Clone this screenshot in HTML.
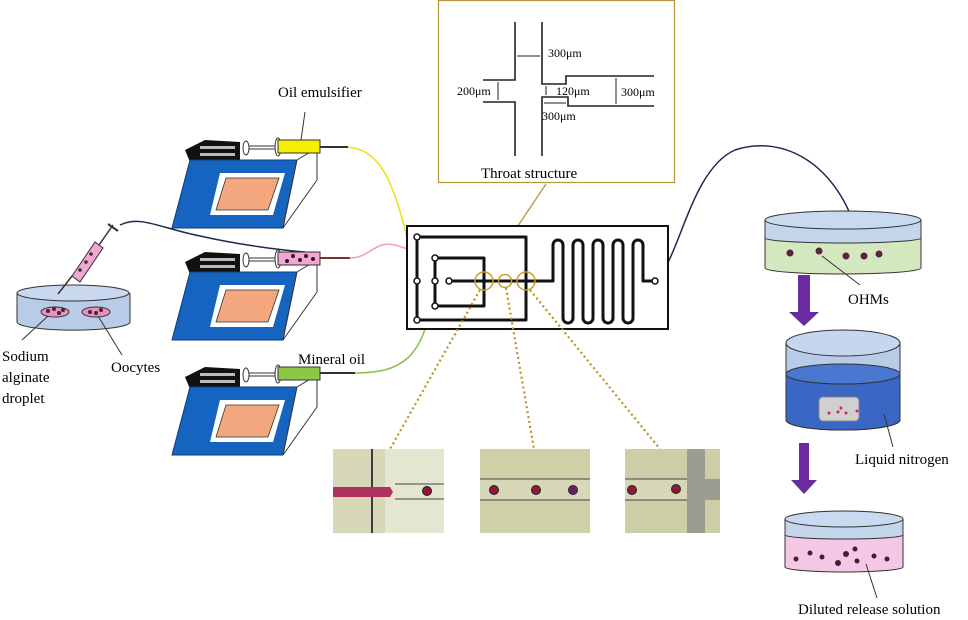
<!DOCTYPE html>
<html><head><meta charset="utf-8"><style>
html,body{margin:0;padding:0;background:#fff;}
svg{display:block;font-family:"Liberation Serif",serif;}
</style></head><body>
<svg width="968" height="620" viewBox="0 0 968 620" xmlns="http://www.w3.org/2000/svg">
<defs>
<g id="pump">
  <path d="M185,150 L205,140 L240,142 L240,160 L190,162 Z" fill="#111"/>
  <rect x="200" y="146" width="35" height="3" fill="#bbb"/>
  <rect x="200" y="153" width="35" height="3" fill="#bbb"/>
  <path d="M172,228 L190,160 L297,160 L283,228 Z" fill="#1565c0" stroke="#0d3b7a" stroke-width="1"/>
  <path d="M297,160 L317,148 L317,180 L283,228 Z" fill="#fff" stroke="#333" stroke-width="1"/>
  <path d="M220,173 L285,173 L273,215 L210,215 Z" fill="#fff"/>
  <path d="M226,178 L279,178 L268,210 L216,210 Z" fill="#f2a77e" stroke="#333" stroke-width="0.8"/>
  <rect x="245" y="146" width="33" height="3" fill="#fff" stroke="#333" stroke-width="1"/>
  <ellipse cx="246" cy="148" rx="3" ry="7" fill="#fff" stroke="#333"/>
  <ellipse cx="278" cy="147" rx="3" ry="9" fill="#fff" stroke="#333"/>
</g>
</defs>

<!-- tubes -->
<path d="M348,147 C380,150 395,180 412,260" stroke="#f0e020" stroke-width="1.6" fill="none"/>
<path d="M350,258 C370,258 375,240 395,245 C420,252 440,265 450,278" stroke="#f2a0c0" stroke-width="1.6" fill="none"/>
<path d="M355,373 C400,373 425,360 433,290" stroke="#8cc050" stroke-width="1.6" fill="none"/>
<path d="M120,225 C140,215 160,228 200,236 C240,245 280,250 305,252" stroke="#1c2a50" stroke-width="1.5" fill="none"/>
<path d="M655,281 C680,260 690,170 735,150 C780,135 830,160 853,221" stroke="#1c2a50" stroke-width="1.5" fill="none"/>
<line x1="305" y1="112" x2="301" y2="140" stroke="#333" stroke-width="1"/>

<!-- pumps -->
<use href="#pump"/>
<rect x="278" y="140" width="42" height="13" fill="#f6f000" stroke="#333"/>
<line x1="320" y1="147" x2="348" y2="147" stroke="#333" stroke-width="2"/>

<use href="#pump" transform="translate(0,112)"/>
<rect x="278" y="252" width="42" height="13" fill="#f3a6d0" stroke="#333"/>
<g fill="#3a1030"><circle cx="287" cy="261" r="2"/><circle cx="293" cy="256" r="2"/><circle cx="300" cy="260" r="2"/><circle cx="306" cy="256" r="2"/><circle cx="313" cy="259" r="2"/></g>
<line x1="320" y1="258" x2="350" y2="258" stroke="#733" stroke-width="2"/>

<use href="#pump" transform="translate(0,227)"/>
<rect x="278" y="367" width="42" height="13" fill="#8cc848" stroke="#333"/>
<line x1="320" y1="373" x2="355" y2="373" stroke="#333" stroke-width="2"/>

<!-- left dish -->
<path d="M17,293 L17,322 A56,8 0 0 0 130,322 L130,293" fill="#b8cce8" stroke="#333"/>
<ellipse cx="73" cy="293" rx="56" ry="8" fill="#c9d8ee" stroke="#333"/>
<ellipse cx="55" cy="312" rx="14" ry="5" fill="#f08cc0" stroke="#333"/>
<ellipse cx="96" cy="312" rx="14" ry="5" fill="#f08cc0" stroke="#333"/>
<g fill="#333"><circle cx="48" cy="311" r="2"/><circle cx="54" cy="309" r="2"/><circle cx="59" cy="313" r="2"/><circle cx="63" cy="310" r="2"/><circle cx="90" cy="312" r="2"/><circle cx="96" cy="313" r="2"/><circle cx="101" cy="310" r="2"/></g>
<line x1="58" y1="294" x2="72" y2="276" stroke="#333" stroke-width="1.5"/>
<path d="M72,276 L95,242 L103,248 L80,282 Z" fill="#f3a6d0" stroke="#333"/>
<g fill="#333"><circle cx="80" cy="270" r="1.8"/><circle cx="86" cy="262" r="1.8"/><circle cx="91" cy="254" r="1.8"/></g>
<line x1="99" y1="245" x2="113" y2="225" stroke="#333" stroke-width="1.5"/>
<line x1="108" y1="224" x2="118" y2="231" stroke="#333" stroke-width="2"/>
<line x1="48" y1="316" x2="22" y2="340" stroke="#333"/>
<line x1="98" y1="316" x2="122" y2="355" stroke="#333"/>

<!-- throat box -->
<rect x="438.5" y="0.5" width="236" height="182" fill="#fff" stroke="#b8963c" stroke-width="1.2"/>
<g stroke="#222" stroke-width="1.6" fill="none">
<path d="M515,22 L515,80 L483,80"/><path d="M483,102 L515,102 L515,156"/>
<path d="M542,22 L542,84 L566,84 L566,76 L654,76"/>
<path d="M542,156 L542,97 L568,97 L568,106 L654,106"/>
</g>
<g stroke="#222" stroke-width="1" fill="none">
<line x1="517" y1="56" x2="540" y2="56"/><line x1="498" y1="82" x2="498" y2="100"/>
<line x1="546" y1="86" x2="546" y2="95"/><line x1="544" y1="103" x2="566" y2="103"/>
<line x1="616" y1="78" x2="616" y2="104"/>
</g>
<text x="548" y="57" font-size="12">300μm</text>
<text x="457" y="95" font-size="12">200μm</text>
<text x="556" y="95" font-size="12">120μm</text>
<text x="621" y="96" font-size="12">300μm</text>
<text x="542" y="120" font-size="12">300μm</text>
<text x="481" y="178" font-size="15">Throat structure</text>
<line x1="487" y1="272" x2="546" y2="184" stroke="#b8963c" stroke-width="1.3"/>

<!-- chip -->
<rect x="407" y="226" width="261" height="103" fill="#fff" stroke="#111" stroke-width="2"/>
<g stroke="#111" stroke-width="3" fill="none" stroke-linejoin="round">
<path d="M417,237 L526,237 L526,320 L417,320 Z"/>
<path d="M435,258 L484,258 L484,306 L435,306"/>
<path d="M449,281 L553,281 L553,245 A5,5 0 0 1 563,245 L563,318 A5,5 0 0 0 573,318 L573,245 A5,5 0 0 1 583,245 L583,318 A5,5 0 0 0 593,318 L593,245 A5,5 0 0 1 603,245 L603,318 A5,5 0 0 0 613,318 L613,245 A5,5 0 0 1 623,245 L623,318 A5,5 0 0 0 633,318 L633,245 A5,5 0 0 1 643,245 L643,281 L655,281"/>
<line x1="435" y1="258" x2="435" y2="306"/>
</g>
<g fill="#fff" stroke="#111" stroke-width="1.5">
<circle cx="417" cy="237" r="3"/><circle cx="417" cy="281" r="3"/><circle cx="417" cy="320" r="3"/>
<circle cx="435" cy="258" r="3"/><circle cx="435" cy="281" r="3"/><circle cx="435" cy="306" r="3"/>
<circle cx="449" cy="281" r="3"/><circle cx="655" cy="281" r="3"/>
</g>
<g fill="none" stroke="#c8a020" stroke-width="1.5">
<circle cx="484" cy="281" r="9"/><circle cx="505" cy="281" r="6.5"/><circle cx="526" cy="281" r="9"/>
</g>
<g stroke="#b8961e" stroke-width="2.2" stroke-dasharray="2,3" fill="none">
<line x1="480" y1="290" x2="390" y2="449"/>
<line x1="506" y1="288" x2="534" y2="449"/>
<line x1="530" y1="290" x2="660" y2="449"/>
</g>

<!-- micrographs -->
<rect x="333" y="449" width="111" height="84" fill="#d6d8b8"/>
<rect x="385" y="449" width="59" height="84" fill="#e4e6d2"/>
<line x1="372" y1="449" x2="372" y2="533" stroke="#3a3a40" stroke-width="2"/>
<path d="M333,487 L390,487 L393,492 L390,497 L333,497 Z" fill="#b03060"/>
<path d="M395,484 L444,484 M395,499 L444,499" stroke="#444"/>
<circle cx="427" cy="491" r="4.5" fill="#901838" stroke="#222"/>
<rect x="480" y="449" width="110" height="84" fill="#cfcfa8"/>
<rect x="480" y="479" width="110" height="21" fill="#d8d8b8"/>
<path d="M480,479 L590,479 M480,500 L590,500" stroke="#444"/>
<circle cx="494" cy="490" r="4.5" fill="#901838" stroke="#222"/><circle cx="536" cy="490" r="4.5" fill="#901838" stroke="#222"/><circle cx="573" cy="490" r="4.5" fill="#6a2060" stroke="#224"/>
<rect x="625" y="449" width="95" height="84" fill="#cdcda8"/>
<rect x="687" y="449" width="18" height="84" fill="#9c9c90"/>
<rect x="687" y="479" width="33" height="21" fill="#9c9c90"/>
<rect x="625" y="479" width="62" height="21" fill="#d8d8b8"/>
<path d="M625,479 L687,479 M625,500 L687,500" stroke="#444"/>
<circle cx="632" cy="490" r="4.5" fill="#901838" stroke="#222"/><circle cx="676" cy="489" r="4.5" fill="#901838" stroke="#222"/>

<!-- right dish 1 -->
<path d="M765,220 L765,268 A78,6 0 0 0 921,268 L921,220" fill="#d4e8c0" stroke="#333"/>
<path d="M765,220 L765,238 A78,5 0 0 0 921,238 L921,220" fill="#c5d6ec" stroke="#333"/>
<ellipse cx="843" cy="220" rx="78" ry="9" fill="#c9d9f0" stroke="#333"/>
<g fill="#5a2040"><circle cx="790" cy="253" r="3.5"/><circle cx="819" cy="251" r="3.5"/><circle cx="846" cy="256" r="3.5"/><circle cx="864" cy="256" r="3.5"/><circle cx="879" cy="254" r="3.5"/></g>
<line x1="822" y1="256" x2="860" y2="285" stroke="#333"/>
<text x="848" y="304" font-size="15">OHMs</text>
<path d="M798,275 L810,275 L810,312 L819,312 L804,326 L789,312 L798,312 Z" fill="#6a2aa0"/>
<!-- LN dish -->
<path d="M786,343 L786,420 A57,10 0 0 0 900,420 L900,343" fill="#b8cce8" stroke="#333"/>
<path d="M786,375 L786,420 A57,10 0 0 0 900,420 L900,375 Z" fill="#3a66c4" stroke="#333"/>
<ellipse cx="843" cy="374" rx="57" ry="10" fill="#4a78d0" stroke="#333"/>
<ellipse cx="843" cy="343" rx="57" ry="13" fill="#c5d6ee" stroke="#333"/>
<rect x="819" y="397" width="40" height="24" rx="4" fill="#d0d0d0" stroke="#888"/>
<g fill="#d02070"><circle cx="829" cy="413" r="1.5"/><circle cx="838" cy="412" r="1.5"/><circle cx="841" cy="408" r="1.5"/><circle cx="846" cy="413" r="1.5"/><circle cx="857" cy="411" r="1.5"/></g>
<line x1="884" y1="414" x2="893" y2="447" stroke="#333"/>
<text x="855" y="464" font-size="15">Liquid nitrogen</text>
<path d="M799,443 L809,443 L809,480 L817,480 L804,494 L791,480 L799,480 Z" fill="#6a2aa0"/>
<!-- dish 3 -->
<path d="M785,519 L785,567 A59,5 0 0 0 903,567 L903,519" fill="#f4c8e4" stroke="#333"/>
<path d="M785,519 L785,535 A59,4 0 0 0 903,535 L903,519" fill="#c5d6ec" stroke="#333"/>
<ellipse cx="844" cy="519" rx="59" ry="8" fill="#c9d9f0" stroke="#333"/>
<g fill="#402030"><circle cx="796" cy="559" r="2.5"/><circle cx="810" cy="553" r="2.5"/><circle cx="822" cy="557" r="2.5"/><circle cx="838" cy="563" r="3"/><circle cx="846" cy="554" r="3"/><circle cx="855" cy="549" r="2.5"/><circle cx="857" cy="561" r="2.5"/><circle cx="874" cy="556" r="2.5"/><circle cx="887" cy="559" r="2.5"/></g>
<line x1="866" y1="564" x2="877" y2="598" stroke="#333"/>
<text x="798" y="614" font-size="15">Diluted release solution</text>

<!-- labels -->
<text x="278" y="97" font-size="15">Oil emulsifier</text>
<text x="298" y="364" font-size="15">Mineral oil</text>
<text x="2" y="361" font-size="15">Sodium</text>
<text x="2" y="382" font-size="15">alginate</text>
<text x="2" y="403" font-size="15">droplet</text>
<text x="111" y="372" font-size="15">Oocytes</text>
</svg>
</body></html>
